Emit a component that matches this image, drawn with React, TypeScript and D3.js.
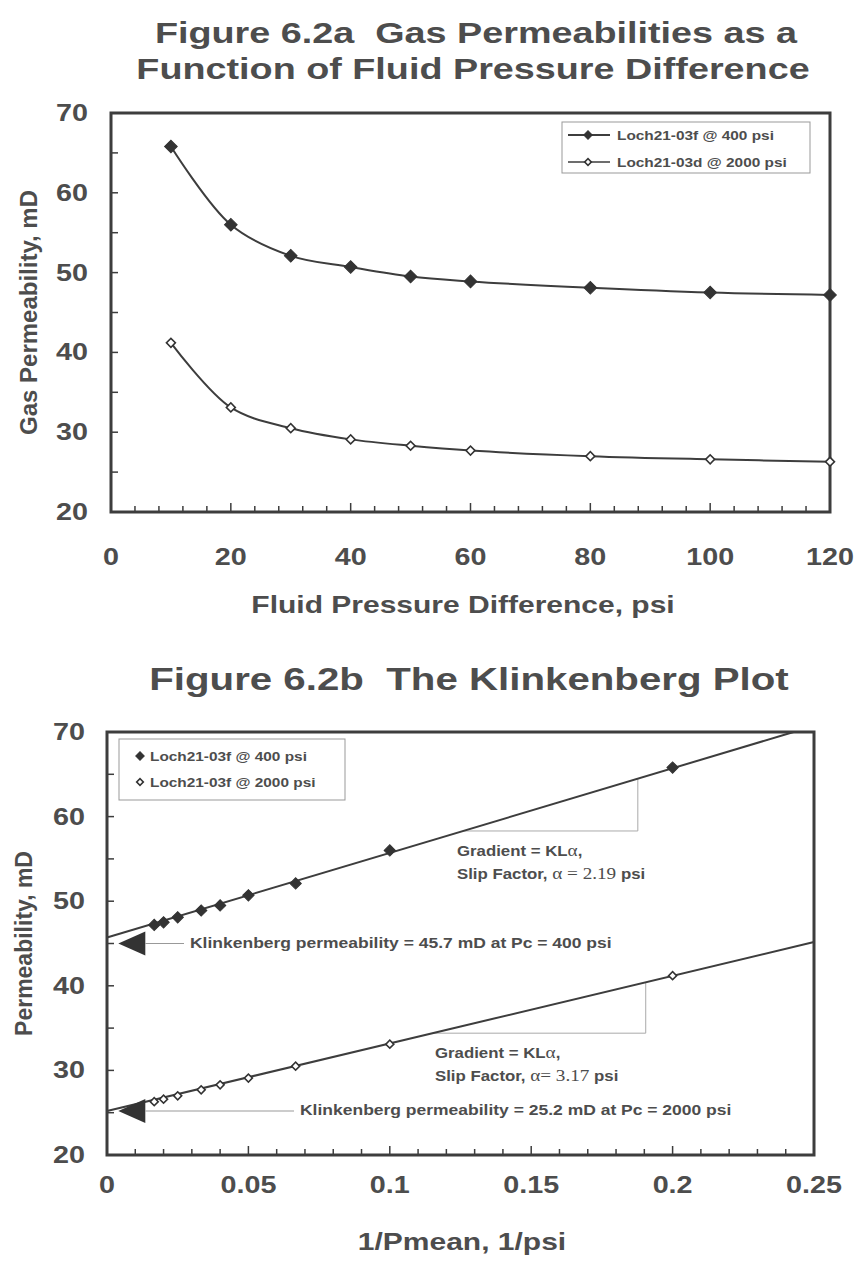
import React from "react";
import * as d3 from "d3";

// ---- Data: Figure 6.2a ----
const pressureDiff = [10, 20, 30, 40, 50, 60, 80, 100, 120];
const perm400 = [65.8, 56.0, 52.1, 50.7, 49.5, 48.9, 48.1, 47.5, 47.2];
const perm2000 = [41.2, 33.1, 30.5, 29.1, 28.3, 27.7, 27.0, 26.6, 26.3];
const xTicksA = [0, 20, 40, 60, 80, 100, 120];
const yTicks = [20, 30, 40, 50, 60, 70];

// ---- Data: Figure 6.2b ----
const invPmean = [0.2, 0.1, 0.0667, 0.05, 0.04, 0.0333, 0.025, 0.02, 0.0167];
const klinkPerm400 = [65.8, 56.0, 52.1, 50.7, 49.5, 48.9, 48.1, 47.5, 47.2];
const klinkPerm2000 = [41.2, 33.1, 30.5, 29.1, 28.3, 27.7, 27.0, 26.6, 26.3];
const xTicksB = [0, 0.05, 0.1, 0.15, 0.2, 0.25];
const xTickLabelsB = ["0", "0.05", "0.1", "0.15", "0.2", "0.25"];
const fitIntercepts = [45.7, 25.2];
const slipFactors = [2.19, 3.17];

const TXT = "#4d4d4d";
const LN = "#3d3d3d";
const FONT = "'Liberation Sans', Arial, Helvetica, sans-serif";
const SERIF = "'Liberation Serif', 'Times New Roman', serif";
const SX = 1.25; // horizontal stretch of the scanned text

function SText({
  x,
  y,
  size,
  anchor = "start",
  sx = SX,
  children,
}: {
  x: number;
  y: number;
  size: number;
  anchor?: string;
  sx?: number;
  children: React.ReactNode;
}) {
  return (
    <text
      transform={`translate(${x},${y}) scale(${sx},1)`}
      textAnchor={anchor}
      fontSize={size}
      fill={TXT}
      style={{ whiteSpace: "pre" }}
    >
      {children}
    </text>
  );
}

function Diamond({ x, y, s, filled }: { x: number; y: number; s: number; filled: boolean }) {
  const p = d3.symbol(d3.symbolSquare, s)() as string;
  return (
    <path
      d={p}
      transform={`translate(${x},${y}) rotate(45)`}
      fill={filled ? "#333" : "#fff"}
      stroke="#333"
      strokeWidth={filled ? 1 : 1.6}
    />
  );
}

function Frame({ x0, x1, y0, y1 }: { x0: number; x1: number; y0: number; y1: number }) {
  return <rect x={x0} y={y0} width={x1 - x0} height={y1 - y0} fill="none" stroke={LN} strokeWidth={3} />;
}

export default function App() {
  const xA = d3.scaleLinear().domain([0, 120]).range([111, 830]);
  const yA = d3.scaleLinear().domain([20, 70]).range([512, 113]);
  const xB = d3.scaleLinear().domain([0, 0.25]).range([107, 814]);
  const yB = d3.scaleLinear().domain([20, 70]).range([1155, 732]);

  const lineA = d3
    .line<number>()
    .x((_, i) => xA(pressureDiff[i]))
    .curve(d3.curveCatmullRom.alpha(0.5));
  const path400 = lineA.y((v) => yA(v))(perm400) as string;
  const path2000 = lineA.y((v) => yA(v))(perm2000) as string;

  const xMinorA = d3.range(0, 121, 4);
  const xMinorB = d3.range(0, 0.2501, 0.01);
  const yMinor = d3.range(20, 70.1, 5);

  const gradients = [fitIntercepts[0] * slipFactors[0], fitIntercepts[1] * slipFactors[1]];
  const fitLine = (k: number) => {
    const b = fitIntercepts[k];
    const g = gradients[k];
    const xEnd = Math.min(0.25, (70 - b) / g);
    return { x1: xB(0), y1: yB(b), x2: xB(xEnd), y2: yB(b + g * xEnd) };
  };

  const slopeTri = [
    { yVal: 58.3, xVert: 0.1877, k: 0 },
    { yVal: 34.4, xVert: 0.1905, k: 1 },
  ];

  return (
    <svg
      width={861}
      height={1270}
      style={{ position: "absolute", left: 0, top: 0, background: "#fff" }}
      fontFamily={FONT}
      fontWeight="bold"
    >
      <rect x={0} y={0} width={861} height={1270} fill="#fff" />
      {/* ================= Chart A ================= */}
      <SText x={476} y={43} size={29.5} sx={1.28} anchor="middle">Figure 6.2a  Gas Permeabilities as a</SText>
      <SText x={473} y={79} size={29.5} sx={1.28} anchor="middle">Function of Fluid Pressure Difference</SText>
      {xMinorA.map((t) => (
        <line key={"xa" + t} x1={xA(t)} x2={xA(t)} y1={yA(20)} y2={yA(20) - (t % 20 === 0 ? 9 : 6)} stroke={LN} strokeWidth={1.5} />
      ))}
      {yMinor.map((t) => (
        <line key={"ya" + t} x1={xA(0)} x2={xA(0) + 7} y1={yA(t)} y2={yA(t)} stroke={LN} strokeWidth={1.5} />
      ))}
      <Frame x0={xA(0)} x1={xA(120)} y0={yA(70)} y1={yA(20)} />
      {xTicksA.map((t) => (
        <SText key={"xla" + t} x={xA(t)} y={565} size={23} anchor="middle">{String(t)}</SText>
      ))}
      {yTicks.map((t) => (
        <SText key={"yla" + t} x={88} y={yA(t) + 8} size={23} anchor="end">{String(t)}</SText>
      ))}
      <SText x={463} y={613} size={24} anchor="middle">Fluid Pressure Difference, psi</SText>
      <text transform={`translate(37,${(yA(20) + yA(70)) / 2}) rotate(-90)`} textAnchor="middle" fontSize={24} fill={TXT}>
        Gas Permeability, mD
      </text>
      <path d={path400} fill="none" stroke={LN} strokeWidth={2} />
      <path d={path2000} fill="none" stroke={LN} strokeWidth={2} />
      {pressureDiff.map((p, i) => (
        <Diamond key={"a1" + i} x={xA(p)} y={yA(perm400[i])} s={80} filled={true} />
      ))}
      {pressureDiff.map((p, i) => (
        <Diamond key={"a2" + i} x={xA(p)} y={yA(perm2000[i])} s={40} filled={false} />
      ))}
      {/* legend A */}
      <rect x={562} y={122} width={248} height={51} fill="#fff" stroke="#999" strokeWidth={1} />
      <line x1={568} x2={610} y1={135} y2={135} stroke={LN} strokeWidth={2} />
      <Diamond x={588} y={135} s={36} filled={true} />
      <SText x={617} y={140} size={13.5} sx={1.14}>Loch21-03f @ 400 psi</SText>
      <line x1={568} x2={610} y1={162} y2={162} stroke={LN} strokeWidth={1.5} />
      <Diamond x={588} y={162} s={22} filled={false} />
      <SText x={617} y={167} size={13.5} sx={1.14}>Loch21-03d @ 2000 psi</SText>

      {/* ================= Chart B ================= */}
      <SText x={469} y={690} size={30.5} sx={1.32} anchor="middle">Figure 6.2b  The Klinkenberg Plot</SText>
      {xMinorB.map((t, i) => (
        <line key={"xb" + i} x1={xB(t)} x2={xB(t)} y1={yB(20)} y2={yB(20) - (i % 5 === 0 ? 9 : 6)} stroke={LN} strokeWidth={1.5} />
      ))}
      {yMinor.map((t) => (
        <line key={"yb" + t} x1={xB(0)} x2={xB(0) + 7} y1={yB(t)} y2={yB(t)} stroke={LN} strokeWidth={1.5} />
      ))}
      {slopeTri.map((s, i) => {
        const b = fitIntercepts[s.k];
        const g = gradients[s.k];
        const xStart = (s.yVal - b) / g;
        const yTop = b + g * s.xVert;
        return (
          <g key={"st" + i}>
            <line x1={xB(xStart)} x2={xB(s.xVert)} y1={yB(s.yVal)} y2={yB(s.yVal)} stroke="#aaa" strokeWidth={1} />
            <line x1={xB(s.xVert)} x2={xB(s.xVert)} y1={yB(s.yVal)} y2={yB(yTop)} stroke="#aaa" strokeWidth={1} />
          </g>
        );
      })}
      {[0, 1].map((k) => {
        const f = fitLine(k);
        return <line key={"fit" + k} {...f} stroke={LN} strokeWidth={2} />;
      })}
      <Frame x0={xB(0)} x1={xB(0.25)} y0={yB(70)} y1={yB(20)} />
      {xTicksB.map((t, i) => (
        <SText key={"xlb" + i} x={xB(t)} y={1193} size={23} anchor="middle">{xTickLabelsB[i]}</SText>
      ))}
      {yTicks.map((t) => (
        <SText key={"ylb" + t} x={85} y={yB(t) + 8} size={23} anchor="end">{String(t)}</SText>
      ))}
      <SText x={462} y={1250} size={24} anchor="middle">1/Pmean, 1/psi</SText>
      <text transform={`translate(32,${(yB(20) + yB(70)) / 2}) rotate(-90)`} textAnchor="middle" fontSize={23} fill={TXT}>
        Permeability, mD
      </text>
      {invPmean.map((p, i) => (
        <Diamond key={"b1" + i} x={xB(p)} y={yB(klinkPerm400[i])} s={64} filled={true} />
      ))}
      {invPmean.map((p, i) => (
        <Diamond key={"b2" + i} x={xB(p)} y={yB(klinkPerm2000[i])} s={32} filled={false} />
      ))}
      {[
        { v: 45.0, tx: 190, label: "Klinkenberg permeability = 45.7 mD at Pc = 400 psi" },
        { v: 25.2, tx: 300, label: "Klinkenberg permeability = 25.2 mD at Pc = 2000 psi" },
      ].map((a, i) => {
        const yy = yB(a.v);
        const tip = xB(0.004);
        return (
          <g key={"ar" + i}>
            <path d={`M${tip},${yy} L${tip + 27},${yy - 12} L${tip + 27},${yy + 12} Z`} fill="#333" />
            <line x1={tip + 27} x2={a.tx - 6} y1={yy} y2={yy} stroke="#999" strokeWidth={1} />
            <SText x={a.tx} y={yy + 4} size={14}>{a.label}</SText>
          </g>
        );
      })}
      {[
        { x: 457, y: 856, alpha: "α = " },
        { x: 435, y: 1058, alpha: "α= " },
      ].map((n, i) => (
        <g key={"gn" + i}>
          <SText x={n.x} y={n.y} size={14} sx={1.2}>
            Gradient = KL<tspan fontFamily={SERIF} fontWeight="normal" fontSize={16}>α</tspan>,
          </SText>
          <SText x={n.x} y={n.y + 23} size={14} sx={1.2}>
            Slip Factor, <tspan fontFamily={SERIF} fontWeight="normal" fontSize={16}>{n.alpha}{slipFactors[i].toFixed(2)}</tspan> psi
          </SText>
        </g>
      ))}
      {/* legend B */}
      <rect x={119} y={739} width={226} height={61} fill="#fff" stroke="#999" strokeWidth={1} />
      <Diamond x={140} y={756} s={36} filled={true} />
      <SText x={150} y={761} size={13.5} sx={1.14}>Loch21-03f @ 400 psi</SText>
      <Diamond x={140} y={782} s={22} filled={false} />
      <SText x={150} y={787} size={13.5} sx={1.14}>Loch21-03f @ 2000 psi</SText>
    </svg>
  );
}
